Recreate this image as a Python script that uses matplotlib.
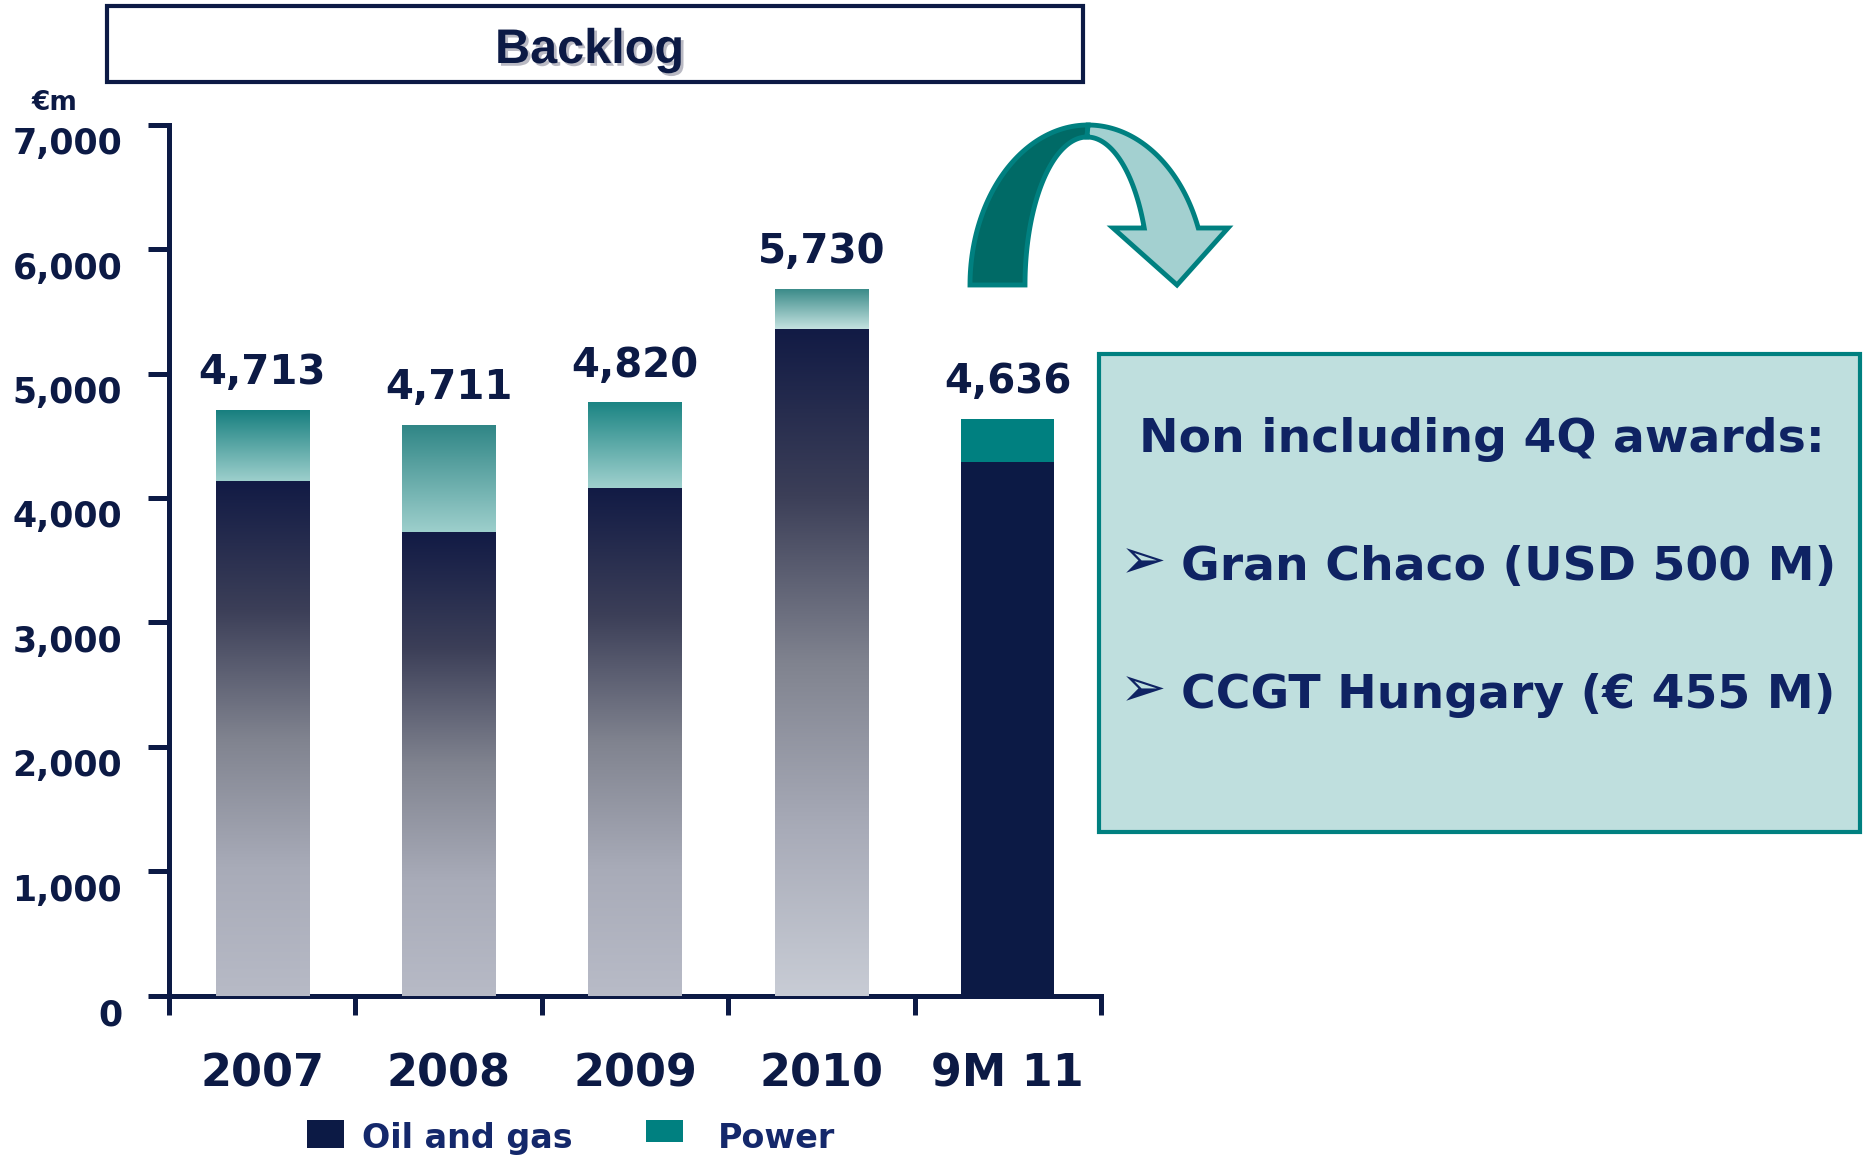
import numpy as np
import matplotlib.pyplot as plt
import matplotlib.transforms as mtransforms
from matplotlib import patheffects
from matplotlib.colors import LinearSegmentedColormap
from matplotlib.patches import Polygon, Rectangle

# data
categories = ["2007", "2008", "2009", "2010", "9M 11"]
oil_gas = [4137, 3727, 4080, 5359, 4289]
power = [570, 860, 684, 321, 346]
total_labels = ["4,713", "4,711", "4,820", "5,730", "4,636"]
yticks = [0, 1000, 2000, 3000, 4000, 5000, 6000, 7000]
series = ["Oil and gas", "Power"]
box_title = "Non including 4Q awards:"
box_items = ["Gran Chaco (USD 500 M)", "CCGT Hungary (€ 455 M)"]

NAVY = "#0c1a45"
TEAL = "#008080"
TEXT = "#0f2363"

# gradient ends per bar (last bar is flat coloured)
oil_light = ["#b7bac6", "#b7bac6", "#b8bbc7", "#c8ccd5"]
power_dark = ["#177f7f", "#308686", "#1b8483", "#3b8b89"]
power_light = ["#9dcfcc", "#9dcfcc", "#a0d1ce", "#c4e2e0"]

W, H = 1863, 1155
plt.rcParams["font.family"] = ["DejaVu Sans"]
fig = plt.figure(figsize=(W / 100, H / 100), dpi=100)

y0_px, y7_px = 995.6, 124.7
ax = fig.add_axes([169 / W, 1 - y0_px / H, (1101 - 169) / W, (y0_px - y7_px) / H])

x = np.arange(len(categories))
oil_bars = ax.bar(x, oil_gas, 0.5, color=NAVY, zorder=2)
pow_bars = ax.bar(x, power, 0.5, bottom=oil_gas, color=TEAL, zorder=2)


def fill_gradient(patch, stops):
    x0, y0 = patch.get_x(), patch.get_y()
    w, h = patch.get_width(), patch.get_height()
    cmap = LinearSegmentedColormap.from_list("g", stops)
    grad = np.linspace(0, 1, 256).reshape(-1, 1)
    ax.imshow(grad, cmap=cmap, extent=[x0, x0 + w, y0, y0 + h], origin="lower",
              aspect="auto", interpolation="bilinear", zorder=3)


for i in range(4):
    fill_gradient(oil_bars[i], [(0, oil_light[i]), (0.25, "#a8abb8"), (0.5, "#80838f"),
                                (0.75, "#3c3f58"), (1, "#121b45")])
    fill_gradient(pow_bars[i], [(0, power_light[i]), (1, power_dark[i])])

for xi, o, p, lbl in zip(x, oil_gas, power, total_labels):
    ax.annotate(lbl, (xi, o + p), xytext=(0, 19), textcoords="offset points",
                ha="center", va="baseline", fontsize=29, fontweight="bold", color=NAVY)

ax.set_xlim(-0.5, 4.5)
ax.set_ylim(0, 7000)
for s in ["top", "right"]:
    ax.spines[s].set_visible(False)
for s in ["left", "bottom"]:
    ax.spines[s].set_color(NAVY)
    ax.spines[s].set_linewidth(3.6)

ax.set_yticks(yticks)
ax.set_yticklabels([f"{v:,}" for v in yticks])
ax.tick_params(axis="y", length=15, width=3.6, color=NAVY, pad=18.7,
               labelsize=25, labelcolor=NAVY)
shift = mtransforms.ScaledTranslation(0, -16 / 100, fig.dpi_scale_trans)
for lab in ax.get_yticklabels():
    lab.set_fontweight("bold")
    lab.set_transform(lab.get_transform() + shift)

ax.set_xticks(x)
ax.set_xticklabels(categories)
ax.set_xticks(np.arange(-0.5, 5, 1), minor=True)
ax.tick_params(axis="x", which="major", length=0, pad=41, labelsize=32, labelcolor=NAVY)
ax.tick_params(axis="x", which="minor", length=14, width=3.6, color=NAVY)
for lab in ax.get_xticklabels():
    lab.set_fontweight("bold")

# overlay in pixel coordinates for the annotations around the chart
ov = fig.add_axes([0, 0, 1, 1])
ov.set_xlim(0, W)
ov.set_ylim(H, 0)
ov.axis("off")

ov.add_patch(Rectangle((107, 6), 976, 76, fc="white", ec=NAVY, lw=3))
ov.text(589.5, 63, "Backlog", ha="center", va="baseline", fontsize=35,
        fontweight="bold", family="Liberation Sans", color=NAVY,
        path_effects=[patheffects.withSimplePatchShadow(offset=(2, -2),
                                                        shadow_rgbFace="#b9b9c3", alpha=1)])
ov.text(32, 110, "€m", ha="left", va="baseline", fontsize=19, fontweight="bold", color=NAVY)

# curved arrow
def arc(cx, cy, a, b, t0, t1, n=60):
    t = np.radians(np.linspace(t0, t1, n))
    return np.column_stack([cx + a * np.cos(t), cy - b * np.sin(t)])

t_out = np.degrees(np.arcsin(57 / 160))
t_in = np.degrees(np.arcsin(57 / 148))
left = np.vstack([arc(1088, 285, 118, 160, 180, 90), arc(1087, 285, 62, 148, 90, 180)])
right = np.vstack([arc(1088, 285, 118, 160, 90, t_out),
                   [[1228, 228], [1177, 285], [1113, 228]],
                   arc(1087, 285, 62, 148, t_in, 90)])
ov.add_patch(Polygon(left, closed=True, fc="#006a66", ec=TEAL, lw=3.5, joinstyle="miter"))
ov.add_patch(Polygon(right, closed=True, fc="#a3d0d0", ec=TEAL, lw=3.5, joinstyle="miter"))

# note box
ov.add_patch(Rectangle((1099, 354), 761, 478, fc="#bfdfde", ec=TEAL, lw=3))
ov.text(1482, 452, box_title, ha="center", va="baseline", fontsize=34,
        fontweight="bold", color=TEXT)
for yb, item in zip([580, 708], box_items):
    ov.text(1143, yb - 2, "➢", ha="center", va="baseline", fontsize=40, color=TEXT)
    ov.text(1181, yb, item, ha="left", va="baseline", fontsize=34,
            fontweight="bold", color=TEXT)

# legend
ov.add_patch(Rectangle((307, 1120), 37, 28, fc=NAVY, ec="none"))
ov.add_patch(Rectangle((646, 1120), 37, 22, fc=TEAL, ec="none"))
ov.text(362, 1148, series[0], ha="left", va="baseline", fontsize=24,
        fontweight="bold", color="#14286b")
ov.text(718, 1148, series[1], ha="left", va="baseline", fontsize=24,
        fontweight="bold", color="#14286b")

fig.savefig("out.png", dpi=100)
